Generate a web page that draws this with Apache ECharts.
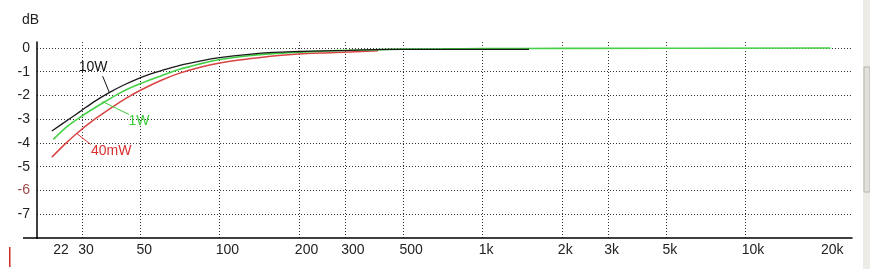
<!DOCTYPE html>
<html><head><meta charset="utf-8">
<script src="https://cdn.jsdelivr.net/npm/echarts@6/dist/echarts.min.js"></script>
<style>html,body{margin:0;padding:0;background:#fff}#c{width:870px;height:269px}</style>
</head><body><div id="c"></div>
<script>
// ---- data (frequency in Hz, level in dB) ----
const tickFreqs = [24.1, 30, 50, 100, 200, 300, 500, 1000, 2000, 3000, 5000, 10000, 20000];
const tickLabels = ['22', '30', '50', '100', '200', '300', '500', '1k', '2k', '3k', '5k', '10k', '20k'];

const freq40mW = [23, 25.5, 28.6, 33, 39.2, 44, 50.6, 60, 70, 85, 100, 129, 160, 200, 250, 310, 400];
const db40mW   = [-4.60, -4.10, -3.60, -3.05, -2.48, -2.12, -1.75, -1.36, -1.07, -0.80, -0.63, -0.46, -0.34, -0.26, -0.21, -0.17, -0.12];

const freq1W = [23.3, 26, 29.6, 35.9, 42, 50, 60, 70, 85, 100, 129, 160, 200, 250, 310, 400, 500, 700, 1000, 2000, 21000];
const db1W   = [-3.85, -3.35, -2.90, -2.32, -1.88, -1.50, -1.17, -0.91, -0.66, -0.49, -0.33, -0.24, -0.18, -0.13, -0.10, -0.07, -0.05, -0.04, -0.03, -0.02, 0];

const freq10W = [23, 26.7, 29.6, 33, 38, 43, 49, 55, 60, 70, 85, 100, 129, 160, 200, 250, 310, 400, 500, 700, 1000, 1500];
const db10W   = [-3.50, -3.00, -2.66, -2.29, -1.88, -1.57, -1.29, -1.08, -0.95, -0.74, -0.54, -0.41, -0.27, -0.19, -0.15, -0.12, -0.10, -0.07, -0.06, -0.06, -0.06, -0.06];

// annotation texts and their anchor points (Hz, dB)
const annoText = ['10W', '1W', '40mW'];
const annoLineFrom = [[38.1, -1.89], [35.9, -2.26], [28.6, -3.60]];
const annoLineTo   = [[35.9, -1.19], [45.2, -2.80], [32.3, -4.06]];
const annoTextAt   = [[33.0, -0.81], [49.3, -3.08], [38.7, -4.34]];

// ---- chart ----
const FONT = 'Liberation Sans';
const L = Math.log10;
const tickPos = tickFreqs.map(L);
function labelFor(v) {
  let best = 0, d = Infinity;
  tickPos.forEach((p, i) => { const dd = Math.abs(p - v); if (dd < d) { d = dd; best = i; } });
  return d < 0.01 ? tickLabels[best] : '';
}
function pts(f, db) { return f.map((x, i) => [L(x), db[i]]); }
function anno(i, color) {
  return {
    markLine: {
      silent: true, animation: false, symbol: ['none', 'none'],
      label: { show: false },
      lineStyle: { color: color, width: 1, type: 'solid' },
      emphasis: { disabled: true },
      data: [[{ coord: [L(annoLineFrom[i][0]), annoLineFrom[i][1]] }, { coord: [L(annoLineTo[i][0]), annoLineTo[i][1]] }]]
    },
    markPoint: {
      silent: true, animation: false, symbol: 'circle', symbolSize: 0,
      label: { show: true, position: 'inside', formatter: annoText[i], color: color, fontSize: 14, fontFamily: FONT },
      data: [{ coord: [L(annoTextAt[i][0]), annoTextAt[i][1]] }]
    }
  };
}

const chart = echarts.init(document.getElementById('c'), null, { renderer: 'canvas' });
const red = '#d84444', green = '#46d046', black = '#1a1a1a';
chart.setOption({
  animation: false,
  backgroundColor: '#fff',
  title: { text: 'dB', left: 22, top: 13, padding: 0, textStyle: { fontSize: 14, fontWeight: 'normal', color: '#222', fontFamily: FONT } },
  grid: { left: 37, right: 18, top: 42, bottom: 31, containLabel: false },
  xAxis: {
    type: 'value', min: L(20.2), max: L(25360),
    axisLine: { show: true, onZero: false, lineStyle: { color: '#000', width: 1.5 } },
    axisTick: { show: false, customValues: tickPos },
    axisLabel: { customValues: tickPos, formatter: v => labelFor(v), color: '#222', fontSize: 14, fontFamily: FONT, margin: 5, align: 'left', padding: [0, 0, 0, -4] },
    splitLine: { show: true, showMinLine: false, showMaxLine: false, lineStyle: { type: [1, 2], color: '#333', width: 1 } }
  },
  yAxis: {
    type: 'value', min: -8, max: 0.25, interval: 1,
    axisLine: { show: true, onZero: false, lineStyle: { color: '#000', width: 1.5 } },
    axisTick: { show: false },
    axisLabel: {
      showMinLabel: false, showMaxLabel: false, margin: 7, fontSize: 14, fontFamily: FONT,
      formatter: v => Number.isInteger(v) ? String(v) : '',
      color: v => (Number(v) === -6 ? '#a04a4a' : '#222')
    },
    splitLine: { show: true, showMinLine: false, showMaxLine: false, lineStyle: { type: [1, 2], color: '#333', width: 1 } }
  },
  graphic: [
    { type: 'line', shape: { x1: 23, y1: 238, x2: 38, y2: 238 }, style: { stroke: '#000', lineWidth: 1.5 }, silent: true },
    { type: 'rect', shape: { x: 9, y: 247, width: 1.5, height: 20 }, style: { fill: '#d42a2a' }, silent: true },
    { type: 'rect', shape: { x: 863, y: 0, width: 7, height: 269 }, style: { fill: '#ecebe6' }, silent: true },
    { type: 'rect', shape: { x: 864, y: 67, width: 6, height: 125 }, style: { fill: '#e2e0da', stroke: '#b8b5ad', lineWidth: 1 }, silent: true }
  ],
  series: [
    Object.assign({ type: 'line', name: '40mW', data: pts(freq40mW, db40mW), symbol: 'none', smooth: 0.3, lineStyle: { color: red, width: 1.5 }, itemStyle: { color: red } }, anno(2, '#d83030')),
    Object.assign({ type: 'line', name: '1W', data: pts(freq1W, db1W), symbol: 'none', smooth: 0.3, lineStyle: { color: green, width: 1.6 }, itemStyle: { color: green } }, anno(1, '#3ccc3c')),
    Object.assign({ type: 'line', name: '10W', data: pts(freq10W, db10W), symbol: 'none', smooth: 0.3, lineStyle: { color: black, width: 1.3 }, itemStyle: { color: black } }, anno(0, '#111'))
  ]
});
</script></body></html>
